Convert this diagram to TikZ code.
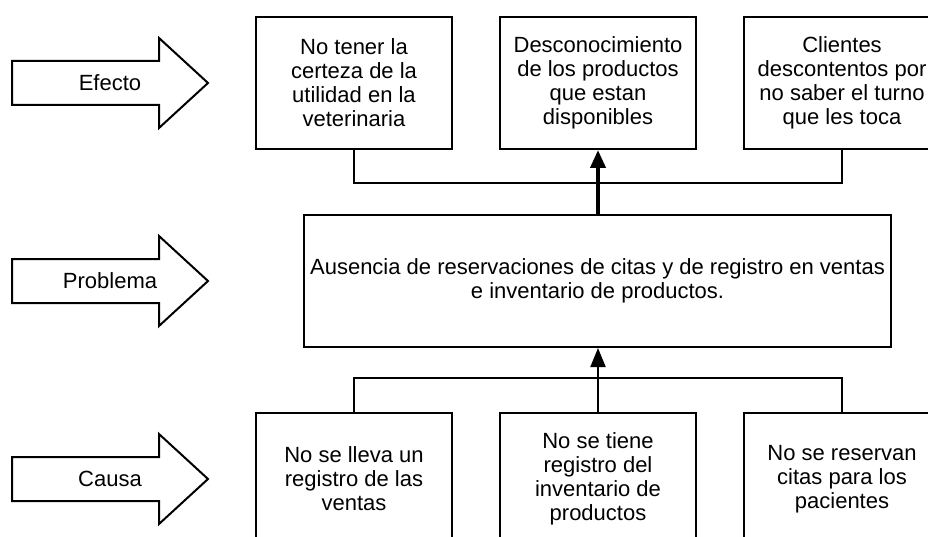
\documentclass[tikz,border=0pt]{standalone}
\usepackage{fontspec}
\setmainfont{Liberation Sans}
\usetikzlibrary{arrows.meta}
\begin{document}
\begin{tikzpicture}[x=1pt,y=-1pt,
  txt/.style={font=\fontsize{22}{24}\selectfont},
  box/.style={txt, draw, line width=2pt, minimum width=196pt, minimum height=132pt, align=center, inner sep=0pt},
  probbox/.style={txt, draw, line width=2pt, minimum width=587pt, minimum height=132pt, align=center, inner sep=0pt},
  bigarrow/.style={draw, line width=2pt, line join=miter, fill=white},
  conn/.style={line width=2pt},
  thickconn/.style={line width=4pt, -{Triangle[length=18pt,width=15pt]}},
  thinconn/.style={line width=2pt, -{Triangle[length=19pt,width=15pt]}}
]
\useasboundingbox (0,0) rectangle (928,537);
\clip (0,0) rectangle (928,537);

% left block arrows
\foreach \s/\lab/\nm in {0/Efecto/la, 198/Problema/lb, 396/Causa/lc}{
  \draw[bigarrow, shift={(0,\s)}] (12,61) -- (159,61) -- (159,38) -- (208,83) -- (159,128) -- (159,105) -- (12,105) -- cycle;
  \node[txt] (\nm) at (110,83+\s) {\lab};
}

% effect boxes
\node[box] (e1) at (354,83) {No tener la\\certeza de la\\utilidad en la\\veterinaria};
\node[box] (e2) at (598,83) {Desconocimiento\\de los productos\\que estan\\disponibles};
\node[box] (e3) at (842,83) {Clientes\\descontentos por\\no saber el turno\\que les toca};

% problem box
\node[probbox] (p) at (597.5,281) {Ausencia de reservaciones de citas y de registro en ventas\\e inventario de productos.};

% cause boxes
\node[box] (c1) at (354,479) {No se lleva un\\registro de las\\ventas};
\node[box] (c2) at (598,479) {No se tiene\\registro del\\inventario de\\productos};
\node[box] (c3) at (842,479) {No se reservan\\citas para los\\pacientes};

% connectors
\draw[conn] (e1.south) -- ++(0,33) -| (e3.south);
\draw[thickconn] (p.north -| e2.south) -- (e2.south);
\draw[conn] (c1.north) -- ++(0,-34) -| (c3.north);
\draw[thinconn] (c2.north) -- (c2.north |- p.south);
\end{tikzpicture}
\end{document}
